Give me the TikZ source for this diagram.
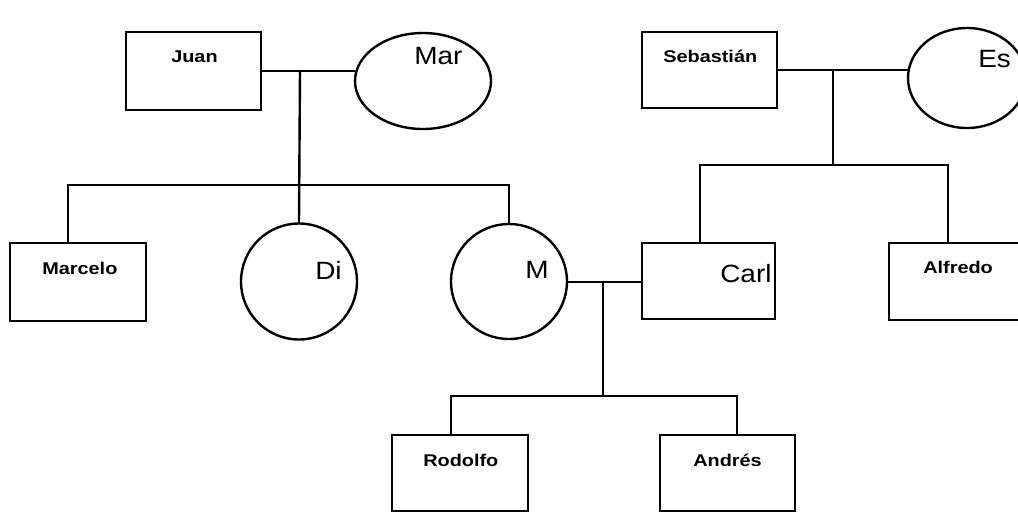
\documentclass[tikz,border=0pt]{standalone}
\usepackage{fontspec}
\setmainfont{Liberation Sans}
\usetikzlibrary{shapes.geometric}
\tikzset{
  ln/.style={line width=1.8pt, line cap=rect},
  person/.style={draw, line width=1.8pt, rectangle, inner sep=0pt},
  woman/.style={draw, line width=1.8pt, ellipse, inner sep=0pt},
  small/.style={anchor=base west, inner sep=0pt, font=\fontsize{12.75}{14}\selectfont\bfseries},
  big/.style={anchor=base west, inner sep=0pt, font=\fontsize{18.75}{20}\selectfont},
}
\newcommand{\sw}[1]{\scalebox{1.17}[1]{#1}}
\newcommand{\bw}[1]{\scalebox{1.12}[1]{#1}}
\begin{document}
\begin{tikzpicture}[x=0.75pt,y=-0.75pt]
\useasboundingbox (0,0) rectangle (1018,512);
\clip (0,0) rectangle (1018,512);
% shapes
\node[person, minimum width=101.25pt, minimum height=58.5pt] (Juan) at (193.5,71) {};
\node[woman, minimum width=102pt, minimum height=72pt] (Mar) at (423,81) {};
\node[person, minimum width=101.25pt, minimum height=57pt] (Seb) at (709.5,70) {};
\node[woman, minimum width=88.5pt, minimum height=75pt] (Es) at (967,78) {};
\node[person, minimum width=102pt, minimum height=58.5pt] (Marcelo) at (78,282) {};
\node[woman, minimum width=87pt, minimum height=87pt] (Di) at (299,281.5) {};
\node[woman, minimum width=87pt, minimum height=86.25pt] (M) at (509,281.5) {};
\node[person, minimum width=99.75pt, minimum height=57pt] (Carl) at (708.5,281) {};
\node[person, minimum width=102pt, minimum height=57.75pt] (Alfredo) at (957,281.5) {};
\node[person, minimum width=102pt, minimum height=57pt] (Rodolfo) at (460,473) {};
\node[person, minimum width=101.25pt, minimum height=57pt] (Andres) at (727.5,473) {};
% texts
\node[small] (tJuan) at (171,62) {\sw{Juan}};
\node[small] (tSeb) at (663,62) {\sw{Sebastián}};
\node[small] (tMarcelo) at (42,274) {\sw{Marcelo}};
\node[small] (tAlfredo) at (923,273) {\sw{Alfredo}};
\node[small] (tRodolfo) at (423,466) {\sw{Rodolfo}};
\node[small] (tAndres) at (693,466) {\sw{Andrés}};
\node[big] (tMar) at (414,64) {\bw{Mar}};
\node[big] (tDi) at (315,279) {\bw{Di}};
\node[big] (tM) at (525,278) {\bw{M}};
\node[big] (tCarl) at (720,282) {\bw{Carl}};
\node[big] (tEs) at (978,67) {\bw{Es}};
% junction coordinates
\coordinate (jJM) at (300,71);
\coordinate (kMarcelo) at (68,185);
\coordinate (kDi) at (300,185);
\coordinate (kM) at (509,185);
\coordinate (jSE) at (833,70);
\coordinate (kSE) at (833,165);
\coordinate (kCarl) at (700,165);
\coordinate (kAlf) at (948,165);
\coordinate (jMC) at (603,282);
\coordinate (kMC) at (603,396);
\coordinate (kRod) at (451,396);
\coordinate (kAnd) at (737,396);
% connectors
\draw[ln] (Juan.east) -- (Juan.east -| Mar.west);
\draw[ln] (jJM) -- (Di.north);
\draw[ln] (kMarcelo) -- (kM);
\draw[ln] (kMarcelo) -- (kMarcelo |- Marcelo.north);
\draw[ln] (kM) -- (M.north);
\draw[ln] (Seb.east) -- (Seb.east -| Es.west);
\draw[ln] (jSE) -- (kSE);
\draw[ln] (kCarl) -- (kAlf);
\draw[ln] (kCarl) -- (kCarl |- Carl.north);
\draw[ln] (kAlf) -- (kAlf |- Alfredo.north);
\draw[ln] (M.east |- jMC) -- (jMC -| Carl.west);
\draw[ln] (jMC) -- (kMC);
\draw[ln] (kRod) -- (kAnd);
\draw[ln] (kRod) -- (kRod |- Rodolfo.north);
\draw[ln] (kAnd) -- (kAnd |- Andres.north);
\end{tikzpicture}
\end{document}
